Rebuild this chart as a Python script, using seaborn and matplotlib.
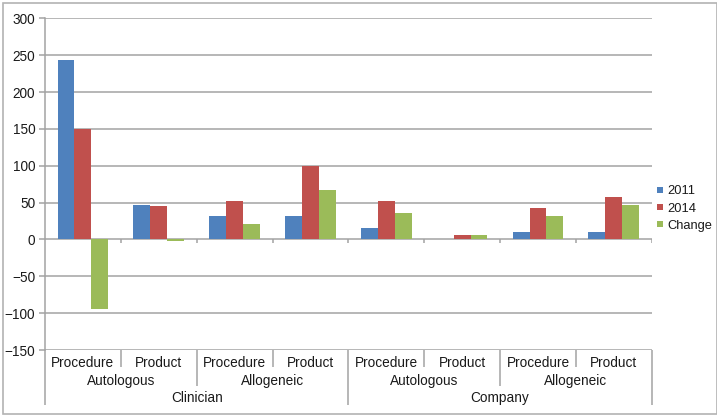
import matplotlib
matplotlib.use("Agg")
import matplotlib.pyplot as plt
import matplotlib.patches as mpatches
from matplotlib.lines import Line2D
import matplotlib.transforms as mtransforms
import numpy as np
import pandas as pd
import seaborn as sns

# ---- data ----
segments = ["Clinician", "Company"]
sources = ["Autologous", "Allogeneic"]
kinds = ["Procedure", "Product"]
series = ["2011", "2014", "Change"]
values_2011 = [243, 47, 32, 32, 16, 0, 10, 10]
values_2014 = [150, 46, 52, 99, 52, 6, 42, 57]
values_change = [-94, -2, 21, 67, 36, 6, 32, 47]
y_ticks = [-150, -100, -50, 0, 50, 100, 150, 200, 250, 300]
colors = ["#4F81BD", "#C0504D", "#9BBB59"]

# ---- long table ----
cat_keys = [f"{s}|{src}|{k}" for s in segments for src in sources for k in kinds]
rows = []
for name, vals in zip(series, [values_2011, values_2014, values_change]):
    for key, v in zip(cat_keys, vals):
        rows.append({"cat": key, "series": name, "value": v})
df = pd.DataFrame(rows)

sns.set_theme(style="white")
plt.rcParams["font.family"] = ["Liberation Sans", "DejaVu Sans"]
FS = 9.8
TXT = "#1a1a1a"
GRID = "#a3a3a3"

W, H = 717, 417
fig = plt.figure(figsize=(W / 100, H / 100), dpi=100)
ax_left, ax_right, ax_top, ax_bottom = 45, 651.7, 18.3, 350
ax = fig.add_axes([ax_left / W, 1 - ax_bottom / H,
                   (ax_right - ax_left) / W, (ax_bottom - ax_top) / H])

sns.barplot(data=df, x="cat", y="value", hue="series", order=cat_keys,
            hue_order=series, palette=colors, saturation=1, width=0.667,
            linewidth=0, legend=False, ax=ax, zorder=2)

ax.set_xlim(-0.5, len(cat_keys) - 0.5)
ax.set_ylim(y_ticks[0], y_ticks[-1])
ax.set_yticks(y_ticks)
ax.set_yticklabels([f"{t}".replace("-", "\u2212") for t in y_ticks], fontsize=FS, color=TXT)
ax.set_xticks([])
ax.set_xlabel("")
ax.set_ylabel("")
for t in y_ticks:
    ax.axhline(t, color=GRID, lw=1.1, zorder=0.5)
for side in ["top", "right", "bottom"]:
    ax.spines[side].set_visible(False)
ax.spines["left"].set_color(GRID)
ax.spines["left"].set_linewidth(1.1)
ax.tick_params(axis="y", left=True, length=4, width=1.1, color=GRID, pad=3)

# tick marks at category boundaries on the zero axis
bounds = np.arange(-0.5, len(cat_keys), 1.0)
ax.vlines(bounds[1:], -4.5, 0, color=GRID, lw=1.1, zorder=0.6)

# ---- hierarchical category labels ----
ax_h = ax_bottom - ax_top
def frac(py):
    return (ax_bottom - py) / ax_h

trans = mtransforms.blended_transform_factory(ax.transData, ax.transAxes)
lvl_text_y = [frac(362.7), frac(380.7), frac(398.0)]
lvl_line_y = [frac(367), frac(386), frac(405)]

def sep(x, depth):
    ax.plot([x, x], [0, lvl_line_y[depth]], transform=trans, color=GRID,
            lw=1.1, clip_on=False, solid_capstyle="butt")

for b in bounds:
    if b in (-0.5, 3.5, 7.5):
        sep(b, 2)
    elif b in (1.5, 5.5):
        sep(b, 1)
    else:
        sep(b, 0)

for i, key in enumerate(cat_keys):
    k = key.split("|")[2]
    ax.text(i, lvl_text_y[0], k, transform=trans, ha="center", va="center",
            fontsize=FS, color=TXT)
for j in range(4):
    ax.text(2 * j + 0.5, lvl_text_y[1], sources[j % 2], transform=trans,
            ha="center", va="center", fontsize=FS, color=TXT)
for j in range(2):
    ax.text(4 * j + 1.5, lvl_text_y[2], segments[j], transform=trans,
            ha="center", va="center", fontsize=FS, color=TXT)

# ---- legend ----
handles = [Line2D([], [], marker="s", linestyle="none", markersize=4.6,
                  markerfacecolor=c, markeredgewidth=0) for c in colors]
fig.legend(handles, series, loc="center left",
           bbox_to_anchor=(656 / W, 1 - 208.5 / H), frameon=False,
           fontsize=9.3, handlelength=0.6, handletextpad=0.3,
           labelspacing=0.4, borderpad=0, borderaxespad=0,
           labelcolor=TXT)

# ---- outer frame ----
fig.patches.append(mpatches.Rectangle((3 / W, 1 - 414.3 / H), (713.5) / W, (411) / H,
                                      transform=fig.transFigure, fill=False,
                                      edgecolor="#b3b3b3", lw=1.2))

fig.savefig("out.png", dpi=100)
